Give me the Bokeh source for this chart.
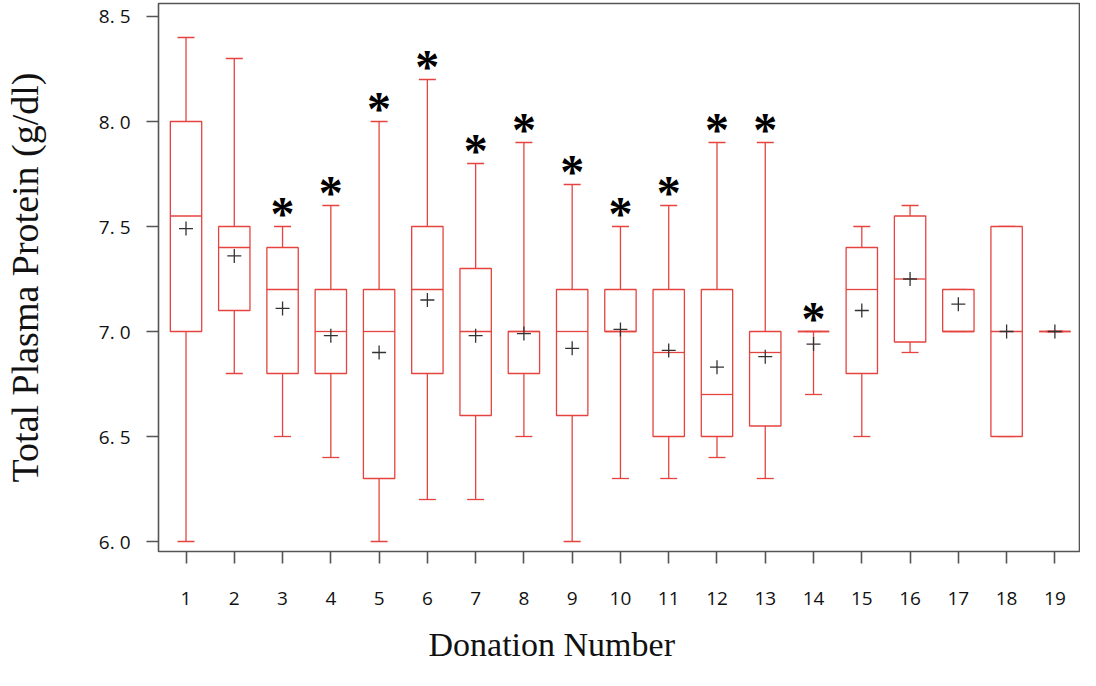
import numpy as np
from bokeh.plotting import figure
from bokeh.models import (Range1d, FixedTicker, CustomJSTickFormatter, ColumnDataSource, Title, LinearAxis)
from bokeh.core.properties import value
from bokeh.embed import file_html
from bokeh.resources import INLINE

# ---------------- data ----------------
donations = list(range(1, 20))
maxima  = [8.40, 8.30, 7.50, 7.60, 8.00, 8.20, 7.80, 7.90, 7.70, 7.50, 7.60, 7.90, 7.90, 7.00, 7.50, 7.60, 7.20, 7.50, 7.00]
q3      = [8.00, 7.50, 7.40, 7.20, 7.20, 7.50, 7.30, 7.00, 7.20, 7.20, 7.20, 7.20, 7.00, 7.00, 7.40, 7.55, 7.20, 7.50, 7.00]
medians = [7.55, 7.40, 7.20, 7.00, 7.00, 7.20, 7.00, 7.00, 7.00, 7.00, 6.90, 6.70, 6.90, 7.00, 7.20, 7.25, 7.00, 7.00, 7.00]
q1      = [7.00, 7.10, 6.80, 6.80, 6.30, 6.80, 6.60, 6.80, 6.60, 7.00, 6.50, 6.50, 6.55, 7.00, 6.80, 6.95, 7.00, 6.50, 7.00]
minima  = [6.00, 6.80, 6.50, 6.40, 6.00, 6.20, 6.20, 6.50, 6.00, 6.30, 6.30, 6.40, 6.30, 6.70, 6.50, 6.90, 7.00, 6.50, 7.00]
means   = [7.49, 7.36, 7.11, 6.98, 6.90, 7.15, 6.98, 6.99, 6.92, 7.01, 6.91, 6.83, 6.88, 6.94, 7.10, 7.25, 7.13, 7.00, 7.00]
significant = [False, False, True, True, True, True, True, True, True, True, True, True, True, True,
               False, False, False, False, False]

ytick_vals = [6.0, 6.5, 7.0, 7.5, 8.0, 8.5]
ytick_labels = ["6. 0", "6. 5", "7. 0", "7. 5", "8. 0", "8. 5"]

x_title = "Donation Number"
y_title = "Total Plasma Protein (g/dl)"

# ---------------- styles ----------------
RED = "#e5433f"
DARK = "#333333"
FRAME = "#555555"
BOX_W = 0.65
LW = 1.3

x = np.array(donations, dtype=float)
src = ColumnDataSource(dict(
    x=x, x0=x - BOX_W / 2, x1=x + BOX_W / 2,
    mx=maxima, q3=q3, med=medians, q1=q1, mn=minima, mean=means,
))
sig_idx = [i for i, s in enumerate(significant) if s]
star_src = ColumnDataSource(dict(
    x=[donations[i] for i in sig_idx],
    y=[maxima[i] for i in sig_idx],
    t=["*"] * len(sig_idx),
))

p = figure(width=1080, height=670,
           x_range=Range1d(0.43, 19.51), y_range=Range1d(5.9524, 8.5619),
           output_backend="svg", toolbar_location=None,
           min_border_left=158, min_border_right=1, min_border_top=3, min_border_bottom=119)

p.background_fill_color = "white"
p.border_fill_color = "white"
p.outline_line_color = FRAME
p.outline_line_width = 1.6
p.xgrid.visible = False
p.ygrid.visible = False

# whiskers
p.segment(x0="x", y0="q3", x1="x", y1="mx", source=src, line_color=RED, line_width=LW)
p.segment(x0="x", y0="q1", x1="x", y1="mn", source=src, line_color=RED, line_width=LW)
# caps
p.scatter(x="x", y="mx", source=src, marker="dash", size=17, line_color=RED, line_width=LW)
p.scatter(x="x", y="mn", source=src, marker="dash", size=17, line_color=RED, line_width=LW)
# boxes
p.quad(left="x0", right="x1", top="q3", bottom="q1", source=src,
       fill_color="white", line_color=RED, line_width=LW)
# medians
p.segment(x0="x0", y0="med", x1="x1", y1="med", source=src, line_color=RED, line_width=LW)
# means
p.scatter(x="x", y="mean", source=src, marker="cross", size=14, line_color=DARK, line_width=1.3)
# significance stars
p.text(x="x", y="y", text="t", source=star_src, text_align="center", text_baseline="alphabetic",
       y_offset=-13, text_font=value("Liberation Serif"), text_font_style="bold",
       text_font_size="48px", text_color="black")

# axes
for ax in (p.xaxis, p.yaxis):
    ax.axis_line_color = None
    ax.major_tick_line_color = FRAME
    ax.major_tick_line_width = 1.6
    ax.major_tick_out = 12
    ax.major_tick_in = 0
    ax.minor_tick_line_color = None
    ax.major_label_text_font = "Open Sans"
    ax.major_label_text_font_size = "19px"
    ax.major_label_text_color = "#111111"

p.xaxis.ticker = FixedTicker(ticks=donations)
p.xaxis.major_label_standoff = 28

p.yaxis.ticker = FixedTicker(ticks=ytick_vals)
p.yaxis.formatter = CustomJSTickFormatter(
    args=dict(vals=ytick_vals, labs=ytick_labels),
    code="const i = vals.indexOf(tick); return i >= 0 ? labs[i] : String(tick);")
p.yaxis.major_label_standoff = 16
p.yaxis.axis_label = y_title
p.yaxis.axis_label_text_font = "Liberation Serif"
p.yaxis.axis_label_text_font_style = "normal"
p.yaxis.axis_label_text_font_size = "38px"
p.yaxis.axis_label_text_color = "#111111"
p.yaxis.axis_label_standoff = 50

# blank spacer band (white ticks, empty labels) between tick labels and the x title
spacer = LinearAxis(ticker=FixedTicker(ticks=donations), major_tick_out=18, major_tick_in=0,
                    axis_line_color=None, major_tick_line_color="white",
                    minor_tick_line_color=None, major_label_standoff=0,
                    major_label_text_font_size="1px",
                    formatter=CustomJSTickFormatter(code="return ''"))
p.add_layout(spacer, "below")

p.add_layout(Title(text=x_title, align="left", offset=270, standoff=0, vertical_align="top",
                   text_font="Liberation Serif", text_font_style="normal",
                   text_font_size="34px", text_color="#111111"), "below")

open("out.html", "w").write(file_html(p, INLINE))
